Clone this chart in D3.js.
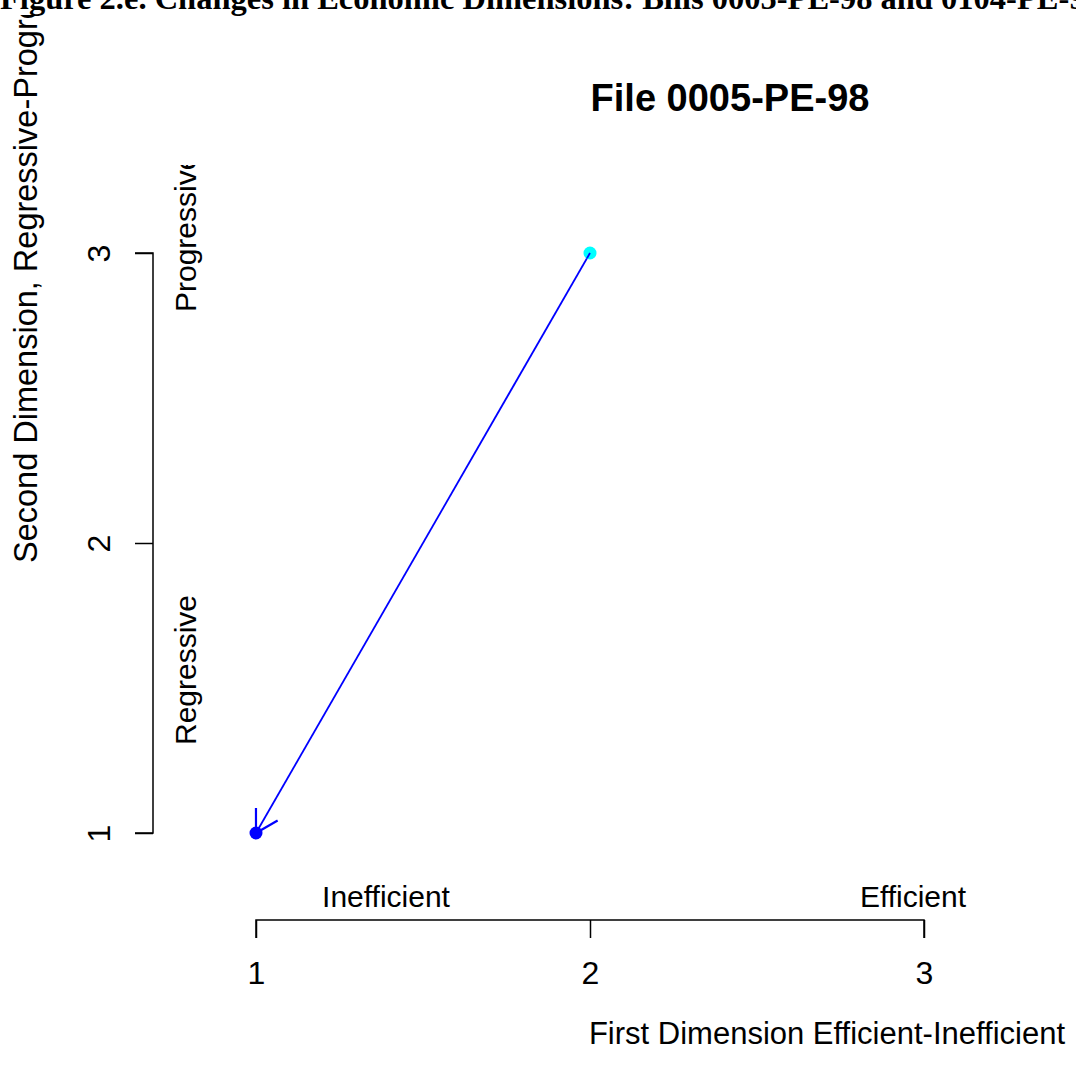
<!DOCTYPE html>
<html>
<head>
<meta charset="utf-8">
<script src="https://cdn.jsdelivr.net/npm/d3@7"></script>
<style>
	body { margin: 0; background: #ffffff; }
	svg { display: block; }
</style>
</head>
<body>
<svg id="chart"></svg>
<script>
// ========== DATA ==========
var figureTitle = 'Figure 2.e. Changes in Economic Dimensions: Bills 0005-PE-98 and 0104-PE-98';
var plotTitle = 'File 0005-PE-98';
var firstDim = [2, 1];   // start, end
var secondDim = [3, 1];
var pointColors = ['#00ffff', '#0000ff'];
var xTicks = [1, 2, 3];
var yTicks = [1, 2, 3];
var xEndLabels = ['Inefficient', 'Efficient'];
var yEndLabels = ['Regressive', 'Progressive'];
var xTitle = 'First Dimension Efficient-Inefficient';
var yTitle = 'Second Dimension, Regressive-Progressive';

// ========== CHART ==========
var width = 1076;
var height = 1072;
var sans = 'Liberation Sans, Arial, sans-serif';

var svg = d3.select('#chart')
	.attr('width', width)
	.attr('height', height);

var x = d3.scaleLinear().domain([1, 3]).range([256, 924]);
var y = d3.scaleLinear().domain([1, 3]).range([833, 253]);

var defs = svg.append('defs');
defs.append('clipPath').attr('id', 'clipTop')
	.append('rect').attr('x', 0).attr('y', 15).attr('width', width).attr('height', height);
defs.append('clipPath').attr('id', 'clipPlot')
	.append('rect').attr('x', 0).attr('y', 165).attr('width', width).attr('height', height);

// x axis
var xAxis = svg.append('g')
	.attr('transform', 'translate(0,920)')
	.call(d3.axisBottom(x).tickValues(xTicks).tickSize(18).tickFormat(d3.format('d')));
xAxis.select('.domain').attr('d', 'M' + x(1) + ',18V0H' + x(3) + 'V18').attr('stroke-width', 1.5);
xAxis.selectAll('.tick line').attr('stroke-width', 1.5);
xAxis.selectAll('.tick text')
	.attr('y', 64)
	.attr('dy', 0)
	.style('font-family', sans)
	.style('font-size', '32px')
	.attr('fill', '#000');

// y axis
var yAxis = svg.append('g')
	.attr('transform', 'translate(153,0)')
	.call(d3.axisLeft(y).tickValues(yTicks).tickSize(18).tickFormat(d3.format('d')));
yAxis.select('.domain').attr('d', 'M-18,' + y(3) + 'H0V' + y(1) + 'H-18').attr('stroke-width', 1.5);
yAxis.selectAll('.tick line').attr('stroke-width', 1.5);
yAxis.selectAll('.tick text')
	.attr('x', 0).attr('dy', 0)
	.attr('transform', 'translate(-43,0)rotate(-90)')
	.attr('text-anchor', 'middle')
	.style('font-family', sans)
	.style('font-size', '32px')
	.attr('fill', '#000');

// end labels along the axes
svg.append('text')
	.attr('x', 386).attr('y', 907)
	.attr('text-anchor', 'middle')
	.style('font-family', sans).style('font-size', '30px')
	.text(xEndLabels[0]);
svg.append('text')
	.attr('x', 913).attr('y', 907)
	.attr('text-anchor', 'middle')
	.style('font-family', sans).style('font-size', '30px')
	.text(xEndLabels[1]);
svg.append('text')
	.attr('transform', 'translate(196,745)rotate(-90)')
	.style('font-family', sans).style('font-size', '30px')
	.text(yEndLabels[0]);
svg.append('g').attr('clip-path', 'url(#clipPlot)')
	.append('text')
	.attr('transform', 'translate(196,312)rotate(-90)')
	.style('font-family', sans).style('font-size', '30px')
	.text(yEndLabels[1]);

// axis titles
svg.append('text')
	.attr('x', 827).attr('y', 1044)
	.attr('text-anchor', 'middle')
	.style('font-family', sans).style('font-size', '31px')
	.text(xTitle);
svg.append('g').attr('clip-path', 'url(#clipTop)')
	.append('text')
	.attr('transform', 'translate(37,563)rotate(-90)')
	.style('font-family', sans).style('font-size', '32.5px')
	.text(yTitle);

// plot title
svg.append('text')
	.attr('x', 730).attr('y', 111)
	.attr('text-anchor', 'middle')
	.style('font-family', sans).style('font-size', '38px').style('font-weight', 'bold')
	.text(plotTitle);

// figure title (cut off at the top edge)
svg.append('text')
	.attr('x', 0).attr('y', 9)
	.style('font-family', 'Liberation Serif, Times New Roman, serif')
	.style('font-size', '32.5px').style('font-weight', 'bold')
	.text(figureTitle);

// movement segment with arrowhead at the end point
var x0 = x(firstDim[0]), y0 = y(secondDim[0]);
var x1 = x(firstDim[1]), y1 = y(secondDim[1]);
svg.append('line')
	.attr('x1', x0).attr('y1', y0)
	.attr('x2', x1).attr('y2', y1)
	.attr('stroke', '#0000ff').attr('stroke-width', 1.8);

var ang = Math.atan2(y0 - y1, x0 - x1);
var headLen = 25;
var spread = Math.PI / 6;
var head = [ang - spread, ang + spread].map(function(a) {
	return [x1 + headLen * Math.cos(a), y1 + headLen * Math.sin(a)];
});
svg.append('path')
	.attr('d', d3.line()([head[0], [x1, y1], head[1]]))
	.attr('fill', 'none')
	.attr('stroke', '#0000ff').attr('stroke-width', 2.2);

// points
svg.selectAll('.pt')
	.data(firstDim.map(function(d, i) { return { fx: d, sy: secondDim[i], c: pointColors[i] }; }))
	.enter().append('circle')
	.attr('class', 'pt')
	.attr('cx', function(d) { return x(d.fx); })
	.attr('cy', function(d) { return y(d.sy); })
	.attr('r', 6.5)
	.attr('fill', function(d) { return d.c; });

// the segment ends on top of the start marker
svg.append('line')
	.attr('x1', x0).attr('y1', y0)
	.attr('x2', x0 + 6 * Math.cos(ang + Math.PI)).attr('y2', y0 + 6 * Math.sin(ang + Math.PI))
	.attr('stroke', '#0000ff').attr('stroke-width', 1.8);
</script>
</body>
</html>
